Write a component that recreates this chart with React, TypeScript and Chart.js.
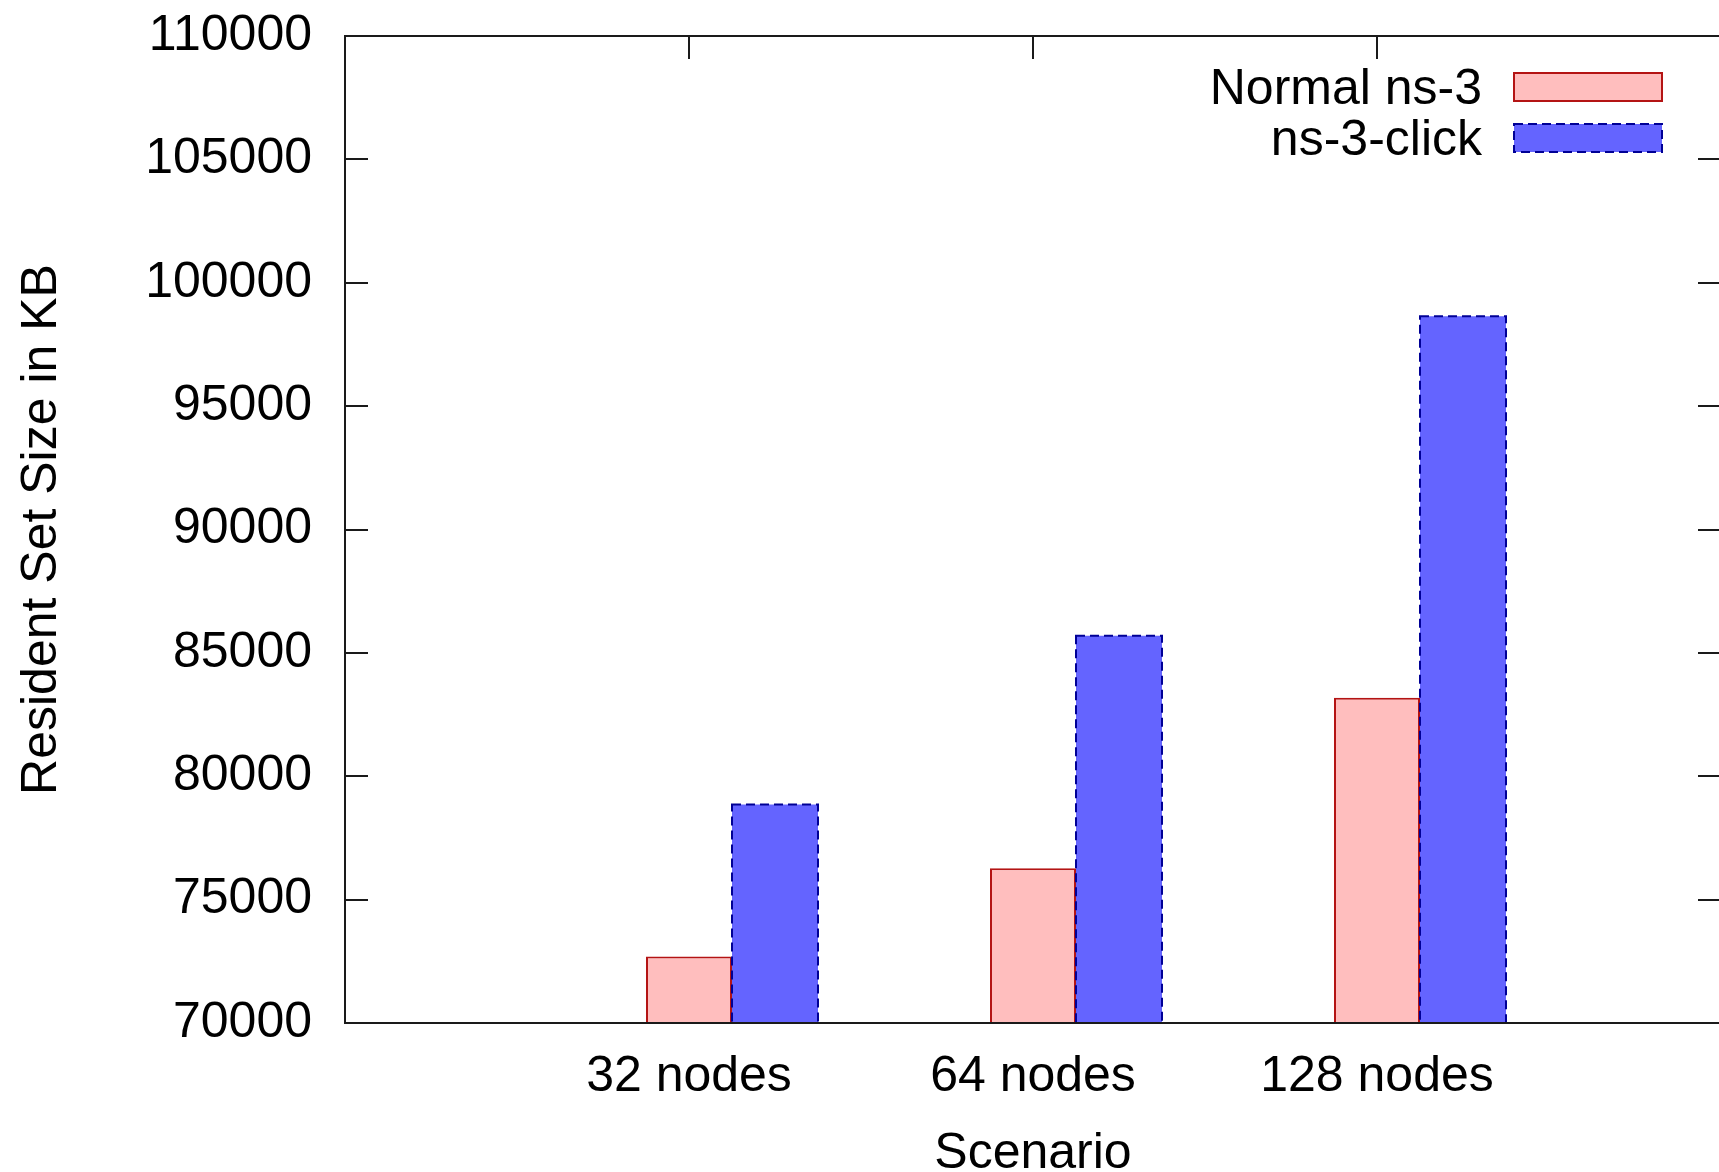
import React, { useEffect, useRef } from 'react';
import { Chart, registerables } from 'chart.js';

Chart.register(...registerables);

// ---- data ----
const CATEGORIES = ['32 nodes', '64 nodes', '128 nodes'];
const SERIES_LABELS = ['Normal ns-3', 'ns-3-click'];
const NORMAL_NS3 = [72690, 76270, 83180];
const NS3_CLICK = [78860, 85690, 98640];
const Y_MIN = 70000;
const Y_MAX = 110000;
const Y_STEP = 5000;
const X_TITLE = 'Scenario';
const Y_TITLE = 'Resident Set Size in KB';

// ---- style ----
const FONT_FAMILY = "'Liberation Sans', Arial, Helvetica, sans-serif";
const FONT_SIZE = 50;
const AXIS_COLOR = '#1a1a1a';
const PINK_FILL = 'rgb(255,190,190)';
const PINK_BORDER = 'rgb(180,20,20)';
const BLUE_FILL = 'rgb(100,100,255)';
const BLUE_BORDER = 'rgb(0,0,150)';
const BLUE_DASH = [9, 5];
const TICK_LEN = 23;

const CANVAS_W = 1760;
const CANVAS_H = 1172;
const VIEW_W = 1719;

const font = { family: FONT_FAMILY, size: FONT_SIZE, lineHeight: 1 };

const decorPlugin = {
  id: 'gnuplotDecor',
  beforeDatasetsDraw(chart: any) {
    const { ctx, chartArea: a, scales } = chart;
    const ys = scales.y;
    const xs = scales.x;
    ctx.save();
    ctx.strokeStyle = AXIS_COLOR;
    ctx.lineWidth = 2;
    ctx.beginPath();
    ys.ticks.forEach((t: any) => {
      const py = Math.round(ys.getPixelForValue(t.value));
      ctx.moveTo(a.left, py);
      ctx.lineTo(a.left + TICK_LEN, py);
      ctx.moveTo(a.right - TICK_LEN, py);
      ctx.lineTo(a.right, py);
    });
    const labels = chart.data.labels as string[];
    xs.ticks.forEach((t: any) => {
      if (!labels[t.value]) return;
      const px = Math.round(xs.getPixelForValue(t.value));
      ctx.moveTo(px, a.top);
      ctx.lineTo(px, a.top + TICK_LEN);
      ctx.moveTo(px, a.bottom);
      ctx.lineTo(px, a.bottom - TICK_LEN);
    });
    ctx.stroke();
    ctx.restore();
  },
  afterDatasetsDraw(chart: any) {
    const { ctx, chartArea: a } = chart;
    // dashed outline for the ns-3-click bars
    const meta = chart.getDatasetMeta(2);
    ctx.save();
    ctx.beginPath();
    ctx.rect(a.left, a.top, a.right - a.left, a.bottom - a.top);
    ctx.clip();
    ctx.strokeStyle = BLUE_BORDER;
    ctx.lineWidth = 2;
    ctx.setLineDash(BLUE_DASH);
    meta.data.forEach((el: any) => {
      const p = el.getProps(['x', 'y', 'base', 'width'], true);
      if (p.y == null || isNaN(p.y)) return;
      const l = p.x - p.width / 2;
      const bottom = Math.min(p.base, a.bottom);
      ctx.strokeRect(l, p.y, p.width, bottom - p.y);
    });
    ctx.restore();

    // frame
    ctx.save();
    ctx.strokeStyle = AXIS_COLOR;
    ctx.lineWidth = 2;
    ctx.strokeRect(a.left, a.top, a.right - a.left, a.bottom - a.top);
    ctx.restore();

    // legend (gnuplot style: text right-aligned, sample box to its right)
    ctx.save();
    ctx.font = `${FONT_SIZE}px ${FONT_FAMILY}`;
    ctx.textAlign = 'right';
    ctx.textBaseline = 'middle';
    const ds = chart.data.datasets.filter((d: any) => d.label);
    ds.forEach((d: any, i: number) => {
      const cy = a.top + 51 + i * 51;
      ctx.fillStyle = '#000';
      ctx.fillText(d.label, a.right - 239, cy + 3);
      const bx = a.right - 207;
      const bw = 148;
      const bh = 28;
      ctx.fillStyle = d.backgroundColor;
      ctx.fillRect(bx, cy - bh / 2, bw, bh);
      ctx.strokeStyle = d.legendBorder;
      ctx.lineWidth = 2;
      ctx.setLineDash(d.legendDash || []);
      ctx.strokeRect(bx, cy - bh / 2, bw, bh);
      ctx.setLineDash([]);
    });
    ctx.restore();
  },
};

export default function App() {
  const canvasRef = useRef<HTMLCanvasElement | null>(null);

  useEffect(() => {
    document.body.style.margin = '0';
    const canvas = canvasRef.current;
    if (!canvas) return;
    const labels = ['', ...CATEGORIES, ''];
    const pad = (arr: number[]) => [null, ...arr, null];
    const chart = new Chart(canvas, {
      type: 'bar',
      data: {
        labels,
        datasets: [
          {
            label: '',
            data: labels.map(() => null),
            backgroundColor: 'rgba(0,0,0,0)',
            borderWidth: 0,
          },
          {
            label: SERIES_LABELS[0],
            data: pad(NORMAL_NS3),
            backgroundColor: PINK_FILL,
            borderColor: PINK_BORDER,
            borderWidth: 2,
            borderSkipped: false,
            legendBorder: PINK_BORDER,
          } as any,
          {
            label: SERIES_LABELS[1],
            data: pad(NS3_CLICK),
            backgroundColor: BLUE_FILL,
            borderWidth: 0,
            legendBorder: BLUE_BORDER,
            legendDash: BLUE_DASH,
          } as any,
        ],
      },
      options: {
        responsive: false,
        animation: false,
        devicePixelRatio: 1,
        layout: { padding: { top: 36, right: CANVAS_W - 1721, bottom: 0, left: 0 } },
        datasets: { bar: { categoryPercentage: 0.75, barPercentage: 1.0 } },
        plugins: {
          legend: { display: false },
          tooltip: { enabled: false },
        },
        scales: {
          x: {
            type: 'category',
            offset: false,
            grid: { display: false, drawTicks: false },
            border: { display: false },
            ticks: {
              autoSkip: false,
              maxRotation: 0,
              minRotation: 0,
              padding: 29,
              color: '#000',
              font,
            },
            title: {
              display: true,
              text: X_TITLE,
              color: '#000',
              font,
              padding: { top: 0, bottom: -7 },
            },
            afterFit: (s: any) => {
              s.height = CANVAS_H - 1023;
              s.paddingLeft = 0;
              s.paddingRight = 0;
            },
          },
          y: {
            type: 'linear',
            min: Y_MIN,
            max: Y_MAX,
            grid: { display: false, drawTicks: false },
            border: { display: false },
            ticks: {
              stepSize: Y_STEP,
              padding: 33,
              color: '#000',
              font,
              callback: (v: any) => String(v),
            },
            title: {
              display: true,
              text: Y_TITLE,
              color: '#000',
              font,
              padding: { top: 17, bottom: 0 },
            },
            afterFit: (s: any) => {
              s.width = 345;
              s.paddingTop = 0;
              s.paddingBottom = 0;
            },
          },
        },
      } as any,
      plugins: [decorPlugin],
    });
    return () => chart.destroy();
  }, []);

  return (
    <div
      style={{
        position: 'fixed',
        left: 0,
        top: 0,
        width: VIEW_W,
        height: CANVAS_H,
        overflow: 'hidden',
        background: '#fff',
      }}
    >
      <canvas
        ref={canvasRef}
        width={CANVAS_W}
        height={CANVAS_H}
        style={{ display: 'block', width: CANVAS_W, height: CANVAS_H }}
      />
    </div>
  );
}
